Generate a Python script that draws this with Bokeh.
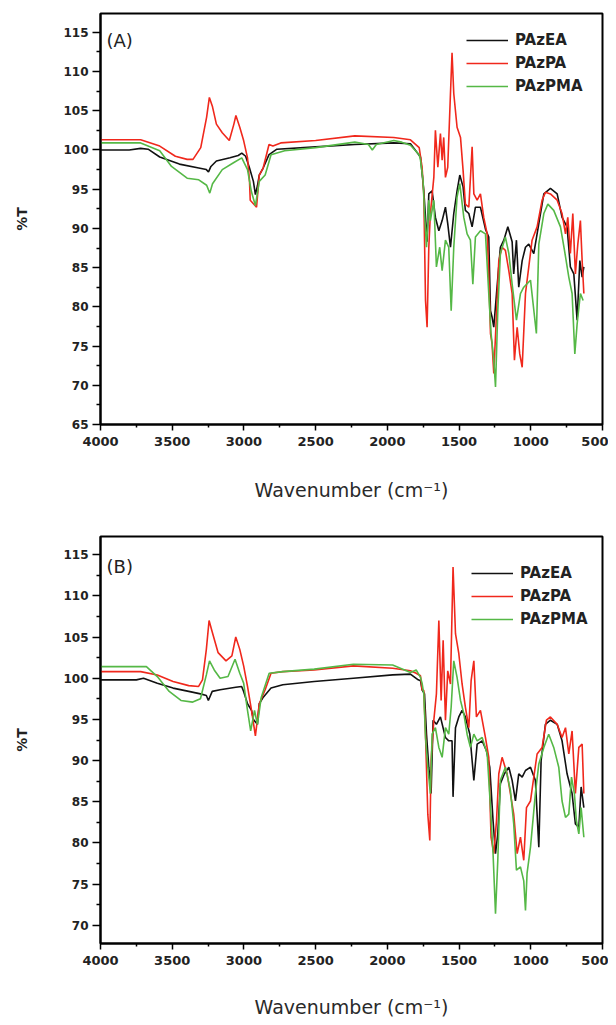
from bokeh.plotting import figure
from bokeh.models import Range1d, FixedTicker, Label, Legend
from bokeh.layouts import column
from bokeh.embed import file_html
from bokeh.resources import INLINE

# ---------------- data ----------------
series_names = ["PAzEA", "PAzPA", "PAzPMA"]
x_ticks = [4000, 3500, 3000, 2500, 2000, 1500, 1000, 500]
x_minor = [3750, 3250, 2750, 2250, 1750, 1250, 750]
yA_ticks = [65, 70, 75, 80, 85, 90, 95, 100, 105, 110, 115]
yA_minor = [67.5, 72.5, 77.5, 82.5, 87.5, 92.5, 97.5, 102.5, 107.5, 112.5]
yB_ticks = [70, 75, 80, 85, 90, 95, 100, 105, 110, 115]
yB_minor = [72.5, 77.5, 82.5, 87.5, 92.5, 97.5, 102.5, 107.5, 112.5]

# Panel A
a_ea_w = [4000, 3800, 3720, 3668, 3587, 3450, 3315, 3262, 3247, 3230, 3192, 3097, 3040, 3015, 2988, 2961, 2934, 2920, 2905, 2893, 2866, 2825, 2770, 2500, 2227, 1955, 1839, 1769,
          1746, 1723, 1711, 1688, 1665, 1641, 1618, 1595, 1579, 1560, 1537, 1514, 1495, 1472, 1456, 1432, 1409, 1386, 1351, 1316, 1293, 1281, 1270, 1258, 1239, 1212, 1188, 1160,
          1130, 1119, 1100, 1084, 1060, 1037, 1014, 979, 944, 909, 863, 816, 782, 747, 724, 700, 677, 658, 642, 630]
a_ea_t = [100.0, 100.0, 100.2, 100.1, 99.1, 98.2, 97.7, 97.5, 97.2, 97.9, 98.6, 99.0, 99.3, 99.6, 99.2, 97.7, 96.0, 94.3, 95.5, 96.8, 97.7, 99.4, 100.1, 100.4, 100.7, 100.9, 100.8, 99.1,
          94.8, 88.3, 94.4, 94.8, 91.4, 89.7, 91.0, 92.7, 90.6, 87.6, 91.9, 94.8, 96.8, 95.3, 92.3, 91.9, 90.2, 92.7, 92.7, 89.9, 88.9, 79.5, 78.7, 77.4, 81.7, 87.6, 88.5, 90.2,
          88.3, 84.2, 88.5, 82.5, 85.9, 87.6, 88.0, 86.8, 90.6, 94.4, 95.1, 94.4, 91.4, 90.2, 85.1, 84.2, 78.3, 85.9, 83.8, 85.1]

a_pa_w = [4000, 3720, 3587, 3478, 3396, 3355, 3301, 3260, 3241, 3219, 3192, 3151, 3102, 3070, 3056, 3029, 3002, 2975, 2961, 2956, 2912, 2893, 2866, 2825, 2798, 2743, 2500, 2227, 1955, 1839,
          1778, 1758, 1746, 1734, 1723, 1711, 1700, 1676, 1665, 1648, 1630, 1618, 1607, 1595, 1579, 1560, 1549, 1537, 1514, 1490, 1472, 1456, 1432, 1409, 1397, 1374, 1351, 1328,
          1304, 1293, 1281, 1270, 1258, 1239, 1223, 1200, 1177, 1153, 1130, 1114, 1095, 1077, 1060, 1037, 1014, 991, 956, 921, 898, 863, 816, 782, 758, 742, 724, 707, 689, 672,
          654, 642, 630]
a_pa_t = [101.3, 101.3, 100.5, 99.2, 98.8, 98.8, 100.3, 104.2, 106.7, 105.5, 103.3, 102.2, 101.2, 103.3, 104.4, 102.9, 101.2, 99.0, 96.0, 93.6, 92.7, 96.8, 97.7, 100.7, 100.5, 100.9, 101.2, 101.8, 101.6, 101.3,
          100.3, 97.8, 94.4, 80.8, 77.4, 87.6, 91.9, 96.5, 102.5, 97.8, 102.1, 98.7, 101.6, 96.5, 97.8, 107.2, 112.4, 107.2, 102.9, 101.6, 97.4, 93.1, 92.7, 100.4, 94.4, 93.6, 94.4, 91.4,
          89.3, 84.2, 76.6, 75.3, 71.5, 79.1, 85.9, 87.6, 87.2, 84.6, 81.7, 73.2, 77.4, 74.0, 72.3, 81.7, 85.1, 88.5, 90.2, 93.6, 94.6, 94.4, 93.6, 91.9, 89.3, 91.4, 86.8, 91.9, 84.2, 88.0,
          91.0, 85.9, 81.7]

a_pma_w = [4000, 3720, 3587, 3505, 3396, 3315, 3260, 3238, 3219, 3151, 3070, 3015, 2975, 2948, 2920, 2893, 2852, 2811, 2716, 2500, 2227, 2132, 2105, 2077, 1955, 1900, 1839, 1778, 1769,
           1751, 1741, 1727, 1711, 1700, 1676, 1658, 1635, 1618, 1595, 1572, 1555, 1537, 1514, 1495, 1467, 1444, 1421, 1404, 1386, 1351, 1316, 1293, 1277, 1258, 1246, 1230, 1212,
           1177, 1153, 1130, 1100, 1072, 1049, 1002, 961, 944, 909, 881, 840, 793, 765, 735, 712, 693, 677, 654, 635]
a_pma_t = [100.9, 100.9, 99.9, 97.9, 96.4, 96.2, 95.5, 94.5, 95.7, 97.5, 98.4, 99.0, 97.5, 94.7, 92.9, 96.0, 96.8, 99.4, 99.9, 100.3, 101.0, 100.7, 100.0, 100.7, 101.2, 101.0, 100.6, 99.4, 98.7,
           96.1, 91.9, 87.6, 93.6, 91.0, 93.6, 85.1, 87.6, 84.6, 88.5, 87.6, 79.5, 87.6, 94.0, 95.7, 91.4, 89.3, 88.5, 82.9, 88.9, 89.7, 89.3, 81.7, 76.6, 73.2, 69.8, 79.5, 86.8,
           88.9, 86.8, 82.9, 78.3, 81.7, 82.5, 83.4, 76.6, 88.0, 91.9, 93.1, 92.3, 90.2, 87.2, 83.8, 81.7, 74.0, 77.8, 81.7, 80.8]

# Panel B
b_ea_w = [4000, 3750, 3700, 3604, 3494, 3385, 3303, 3262, 3248, 3221, 3166, 3057, 3016, 3002, 2975, 2947, 2934, 2906, 2893, 2865, 2811, 2729, 2510, 2237, 1963, 1839, 1785, 1769, 1758,
          1741, 1727, 1711, 1695, 1681, 1658, 1630, 1595, 1572, 1549, 1542, 1525, 1502, 1479, 1456, 1425, 1397, 1374, 1339, 1309, 1286, 1263, 1246, 1230, 1212, 1184, 1153, 1130,
          1107, 1084, 1060, 1037, 1002, 968, 944, 928, 898, 863, 816, 782, 747, 712, 689, 665, 649, 630]
b_ea_t = [99.8, 99.8, 100.0, 99.4, 98.8, 98.4, 98.1, 97.9, 97.3, 98.4, 98.6, 98.9, 99.0, 98.4, 96.9, 96.1, 95.0, 94.4, 96.9, 97.7, 98.8, 99.2, 99.6, 100.0, 100.4, 100.5, 99.8, 99.7, 98.6,
          98.1, 93.2, 89.2, 86.0, 94.9, 94.4, 95.3, 92.8, 92.4, 92.4, 85.6, 94.0, 95.3, 96.1, 95.3, 93.2, 87.6, 92.0, 92.4, 91.2, 89.2, 82.7, 78.7, 81.1, 87.2, 88.4, 89.2, 87.6,
          85.1, 88.4, 88.0, 88.8, 89.2, 87.6, 79.5, 90.0, 94.4, 94.9, 94.4, 92.4, 88.4, 86.0, 82.3, 81.9, 86.8, 84.3]

b_pa_w = [4000, 3720, 3604, 3494, 3385, 3316, 3289, 3262, 3243, 3221, 3180, 3125, 3084, 3057, 3029, 3002, 2975, 2947, 2920, 2893, 2852, 2811, 2729, 2510, 2237, 1963, 1839, 1799, 1769,
          1758, 1746, 1734, 1718, 1704, 1695, 1676, 1658, 1641, 1625, 1611, 1595, 1579, 1560, 1542, 1525, 1502, 1479, 1456, 1432, 1416, 1397, 1379, 1351, 1316, 1293, 1277, 1258,
          1239, 1223, 1200, 1165, 1142, 1119, 1095, 1072, 1049, 1030, 1002, 979, 956, 921, 891, 863, 816, 782, 758, 735, 712, 689, 665, 642, 630]
b_pa_t = [100.8, 100.8, 100.4, 99.6, 99.1, 99.0, 99.8, 103.5, 107.0, 105.6, 103.1, 102.1, 102.7, 105.0, 103.5, 101.5, 99.0, 96.1, 93.0, 96.9, 98.6, 100.6, 100.8, 101.0, 101.5, 101.2, 100.9, 100.6, 100.3,
          98.6, 98.5, 93.2, 83.5, 80.3, 90.0, 94.9, 98.1, 107.0, 97.3, 104.6, 94.9, 100.9, 99.3, 113.5, 105.4, 103.0, 99.3, 96.5, 94.0, 99.7, 102.1, 95.3, 96.1, 92.8, 90.4, 80.7, 78.7,
          82.7, 88.4, 90.4, 88.4, 86.0, 83.5, 78.7, 80.7, 77.9, 84.3, 85.1, 88.0, 90.8, 91.6, 94.9, 95.3, 94.4, 92.8, 94.0, 90.8, 93.6, 86.0, 91.6, 92.0, 86.0]

b_pma_w = [4000, 3680, 3604, 3521, 3439, 3357, 3303, 3262, 3240, 3207, 3166, 3111, 3062, 3029, 3002, 2975, 2953, 2926, 2906, 2879, 2824, 2729, 2510, 2237, 1963, 1839, 1799, 1769, 1758,
           1746, 1734, 1718, 1700, 1688, 1665, 1641, 1618, 1595, 1572, 1555, 1537, 1514, 1490, 1467, 1444, 1421, 1397, 1374, 1339, 1304, 1281, 1263, 1246, 1230, 1212, 1177, 1142,
           1119, 1100, 1072, 1049, 1037, 1026, 1002, 968, 944, 909, 875, 840, 805, 782, 758, 735, 716, 696, 682, 665, 649, 630]
b_pma_t = [101.4, 101.4, 100.2, 98.4, 97.3, 97.1, 97.5, 100.4, 102.1, 101.0, 100.0, 100.2, 102.3, 100.6, 99.4, 96.1, 93.6, 96.1, 94.4, 97.7, 100.6, 100.8, 101.1, 101.7, 101.6, 100.7, 101.0, 100.1, 99.4,
           98.1, 92.8, 89.2, 86.0, 93.2, 94.0, 91.6, 90.4, 94.0, 93.2, 96.5, 102.1, 100.1, 97.3, 95.7, 93.2, 91.6, 93.2, 92.4, 92.8, 90.8, 84.3, 78.7, 71.4, 77.9, 87.6, 89.2, 86.4,
           82.3, 76.7, 77.1, 75.4, 71.8, 76.3, 79.5, 86.0, 89.6, 91.6, 93.2, 91.6, 89.2, 85.1, 83.1, 83.5, 88.0, 86.0, 82.7, 81.1, 84.3, 80.7]

colors = ["#111111", "#f0281c", "#55b846"]
FONT = "DejaVu Sans"


def make_panel(tag, series, y_rng, y_ticks, y_minor, height, b_top, b_bottom,
               legend_loc, tag_y, xlabel_standoff):
    p = figure(width=608, height=height, output_backend="svg", toolbar_location=None,
               x_range=Range1d(4000, 500), y_range=Range1d(*y_rng),
               min_border_left=100, min_border_right=6,
               min_border_top=b_top, min_border_bottom=b_bottom,
               background_fill_color="white", border_fill_color="white")
    p.grid.visible = False
    p.outline_line_color = "black"
    p.outline_line_width = 2
    p.outline_line_alpha = 1

    p.xaxis.ticker = FixedTicker(ticks=x_ticks, minor_ticks=x_minor)
    p.yaxis.ticker = FixedTicker(ticks=y_ticks, minor_ticks=y_minor)
    for ax in (p.xaxis[0], p.yaxis[0]):
        ax.axis_line_width = 2
        ax.axis_line_color = "black"
        ax.major_tick_line_color = "black"
        ax.major_tick_line_width = 1.5
        ax.minor_tick_line_color = "black"
        ax.minor_tick_line_width = 1.5
        ax.major_tick_in = 0
        ax.minor_tick_in = 0
        ax.major_label_text_font = FONT
        ax.major_label_text_font_style = "bold"
        ax.major_label_text_color = "#222222"
        ax.axis_label_text_font = FONT
    p.xaxis.major_tick_out = 6
    p.xaxis.minor_tick_out = 3
    p.xaxis.major_label_standoff = 6
    p.xaxis.major_label_text_font_size = "13px"
    p.xaxis.axis_label = "Wavenumber (cm\u207b\u00b9)"
    p.xaxis.axis_label_text_font_size = "19px"
    p.xaxis.axis_label_text_font_style = "normal"
    p.xaxis.axis_label_text_color = "#2a2a2a"
    p.xaxis.axis_label_standoff = xlabel_standoff

    p.yaxis.major_tick_out = 8
    p.yaxis.minor_tick_out = 4
    p.yaxis.major_label_standoff = 4
    p.yaxis.major_label_text_font_size = "12px"
    p.yaxis.axis_label = "%T"
    p.yaxis.axis_label_text_font_size = "14px"
    p.yaxis.axis_label_text_font_style = "bold"
    p.yaxis.axis_label_text_color = "#222222"
    p.yaxis.axis_label_standoff = 30

    items = []
    for name, (w, t), c in zip(series_names, series, colors):
        r = p.line(w, t, line_color=c, line_width=1.6)
        items.append((name, [r]))
    leg = Legend(items=items, location=legend_loc)
    leg.background_fill_alpha = 0
    leg.border_line_alpha = 0
    leg.padding = 0
    leg.margin = 0
    leg.spacing = 3
    leg.glyph_width = 42
    leg.glyph_height = 20
    leg.label_height = 20
    leg.label_standoff = 7
    leg.label_text_font = FONT
    leg.label_text_font_style = "bold"
    leg.label_text_font_size = "15px"
    leg.label_text_color = "#222222"
    leg.label_text_baseline = "middle"
    p.add_layout(leg, "center")

    p.add_layout(Label(x=3958, y=tag_y, text=tag, text_font=FONT, text_font_size="18px",
                       text_color="#222222", text_baseline="middle"))
    return p


pA = make_panel("(A)", [(a_ea_w, a_ea_t), (a_pa_w, a_pa_t), (a_pma_w, a_pma_t)],
                (65, 117.4), yA_ticks, yA_minor, 513, 13, 89, (366, 328), 114.0, 30)
pB = make_panel("(B)", [(b_ea_w, b_ea_t), (b_pa_w, b_pa_t), (b_pma_w, b_pma_t)],
                (67.8, 117.2), yB_ticks, yB_minor, 509, 23, 79, (371, 314), 113.6, 28)

layout = column(pA, pB, spacing=0)
open("out.html", "w").write(file_html(layout, INLINE))
